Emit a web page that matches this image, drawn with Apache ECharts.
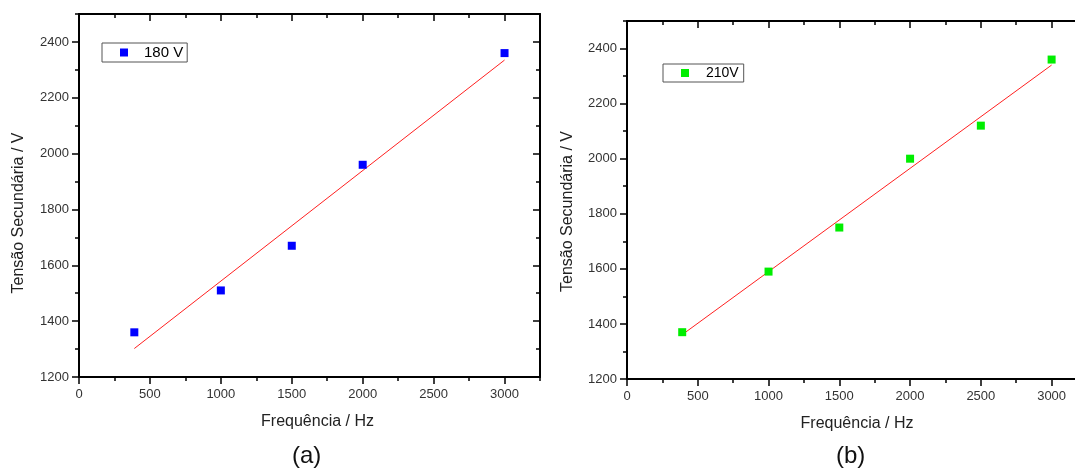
<!DOCTYPE html>
<html>
<head>
<meta charset="utf-8">
<script src="https://cdn.jsdelivr.net/npm/echarts/dist/echarts.min.js"></script>
<style>
html,body{margin:0;padding:0;background:#fff;overflow:hidden;}
#chart{width:1075px;height:472px;}
</style>
</head>
<body>
<div id="chart"></div>
<script>
// ---- data ----
const freq180 = [390, 1000, 1500, 2000, 3000];
const volt180 = [1360, 1510, 1670, 1960, 2360];
const fit180X = [390, 3000];
const fit180Y = [1302, 2335];

const freq210 = [390, 1000, 1500, 2000, 2500, 3000];
const volt210 = [1370, 1590, 1750, 2000, 2120, 2360];
const fit210X = [390, 3000];
const fit210Y = [1361, 2340];

const seriesNames = ['180 V', '210V'];
const panelLabels = ['(a)', '(b)'];
const xTitle = 'Frequência / Hz';
const yTitle = 'Tensão Secundária / V';

// axis ranges
const xMin = 0, xMax = 3250, xMajor = 500, xMinor = 250;
const yMin = 1200, yMax = 2500, yMajor = 200, yMinor = 100;

const FONT = '"Liberation Sans", Arial, sans-serif';
const zip = (a, b) => a.map((v, i) => [v, b[i]]);
const plain = v => String(v);

function xAxes(g, namePad) {
  const base = {gridIndex: g, type: 'value', min: xMin, max: xMax, splitLine: {show: false}};
  return [
    Object.assign({}, base, {
      position: 'bottom', interval: xMajor,
      axisLine: {show: true, onZero: false, lineStyle: {color: '#000', width: 2}},
      axisTick: {show: true, inside: false, length: 7, lineStyle: {color: '#000', width: 1.5}},
      axisLabel: {show: true, margin: 11, fontSize: 13, color: '#333', fontFamily: FONT, showMaxLabel: false, formatter: plain},
      name: xTitle, nameLocation: 'middle', nameGap: 37,
      nameTextStyle: {fontSize: 16, color: '#222', fontFamily: FONT, padding: namePad}
    }),
    Object.assign({}, base, {
      position: 'bottom', interval: xMinor,
      axisLine: {show: false, onZero: false},
      axisTick: {show: true, inside: false, length: 4, lineStyle: {color: '#000', width: 1.5}},
      axisLabel: {show: false}
    }),
    Object.assign({}, base, {
      position: 'top', interval: xMajor,
      axisLine: {show: true, onZero: false, lineStyle: {color: '#000', width: 2}},
      axisTick: {show: true, inside: true, length: 7, lineStyle: {color: '#000', width: 1.5}},
      axisLabel: {show: false}
    }),
    Object.assign({}, base, {
      position: 'top', interval: xMinor,
      axisLine: {show: false, onZero: false},
      axisTick: {show: true, inside: true, length: 4, lineStyle: {color: '#000', width: 1.5}},
      axisLabel: {show: false}
    })
  ];
}

function yAxes(g, nameGap, namePad) {
  const base = {gridIndex: g, type: 'value', min: yMin, max: yMax, splitLine: {show: false}};
  return [
    Object.assign({}, base, {
      position: 'left', interval: yMajor,
      axisLine: {show: true, onZero: false, lineStyle: {color: '#000', width: 2}},
      axisTick: {show: true, inside: false, length: 7, lineStyle: {color: '#000', width: 1.5}},
      axisLabel: {show: true, margin: 10, fontSize: 13, color: '#333', fontFamily: FONT, showMaxLabel: false, formatter: plain},
      name: yTitle, nameLocation: 'middle', nameGap: nameGap,
      nameTextStyle: {fontSize: 16, color: '#222', fontFamily: FONT, padding: namePad}
    }),
    Object.assign({}, base, {
      position: 'left', interval: yMinor,
      axisLine: {show: false, onZero: false},
      axisTick: {show: true, inside: false, length: 4, lineStyle: {color: '#000', width: 1.5}},
      axisLabel: {show: false}
    }),
    Object.assign({}, base, {
      position: 'right', interval: yMajor,
      axisLine: {show: true, onZero: false, lineStyle: {color: '#000', width: 2}},
      axisTick: {show: true, inside: true, length: 7, lineStyle: {color: '#000', width: 1.5}},
      axisLabel: {show: false}
    }),
    Object.assign({}, base, {
      position: 'right', interval: yMinor,
      axisLine: {show: false, onZero: false},
      axisTick: {show: true, inside: true, length: 4, lineStyle: {color: '#000', width: 1.5}},
      axisLabel: {show: false}
    })
  ];
}

function legendFor(name, left, top, fontSize, textPad, pad) {
  return {
    data: [name], left: left, top: top, orient: 'horizontal',
    icon: 'rect', itemWidth: 8, itemHeight: 8,
    backgroundColor: '#fff', borderColor: '#555', borderWidth: 1, borderRadius: 0,
    padding: pad,
    selectedMode: false,
    textStyle: {fontSize: fontSize, color: '#000', fontFamily: FONT, padding: textPad}
  };
}

const chart = echarts.init(document.getElementById('chart'), null, {renderer: 'canvas'});
const option = {
  animation: false,
  backgroundColor: '#fff',
  title: [
    {text: panelLabels[0], left: 292, top: 444, padding: 0,
     textStyle: {fontSize: 24, fontWeight: 'normal', color: '#111', fontFamily: FONT}},
    {text: panelLabels[1], left: 836, top: 444, padding: 0,
     textStyle: {fontSize: 24, fontWeight: 'normal', color: '#111', fontFamily: FONT}}
  ],
  legend: [
    legendFor(seriesNames[0], 102, 43, 15, [0, 0, 0, 11], [2, 4, 2, 18]),
    legendFor(seriesNames[1], 663, 64, 14, [0, 0, 0, 12], [2, 5, 2, 18])
  ],
  grid: [
    {left: 79, top: 14, width: 461, height: 363, outerBoundsMode: 'none'},
    {left: 627, top: 21, width: 460, height: 358, outerBoundsMode: 'none'}
  ],
  xAxis: [].concat(xAxes(0, [0, 0, 0, 16]), xAxes(1, [0, 0, 0, 0])),
  yAxis: [].concat(yAxes(0, 52, [0, 35, 0, 0]), yAxes(1, 51, [0, 23, 0, 0])),
  series: [
    {name: 'fit180', type: 'line', xAxisIndex: 0, yAxisIndex: 0, data: zip(fit180X, fit180Y),
     symbol: 'none', silent: true, lineStyle: {color: '#ff2020', width: 1}, z: 2},
    {name: seriesNames[0], type: 'scatter', xAxisIndex: 0, yAxisIndex: 0, data: zip(freq180, volt180),
     symbol: 'rect', symbolSize: 8, itemStyle: {color: '#0000ff', opacity: 1}, z: 3},
    {name: 'fit210', type: 'line', xAxisIndex: 4, yAxisIndex: 4, data: zip(fit210X, fit210Y),
     symbol: 'none', silent: true, lineStyle: {color: '#ff2020', width: 1}, z: 2},
    {name: seriesNames[1], type: 'scatter', xAxisIndex: 4, yAxisIndex: 4, data: zip(freq210, volt210),
     symbol: 'rect', symbolSize: 8, itemStyle: {color: '#00ee00', opacity: 1}, z: 3}
  ]
};
chart.setOption(option);
</script>
</body>
</html>
